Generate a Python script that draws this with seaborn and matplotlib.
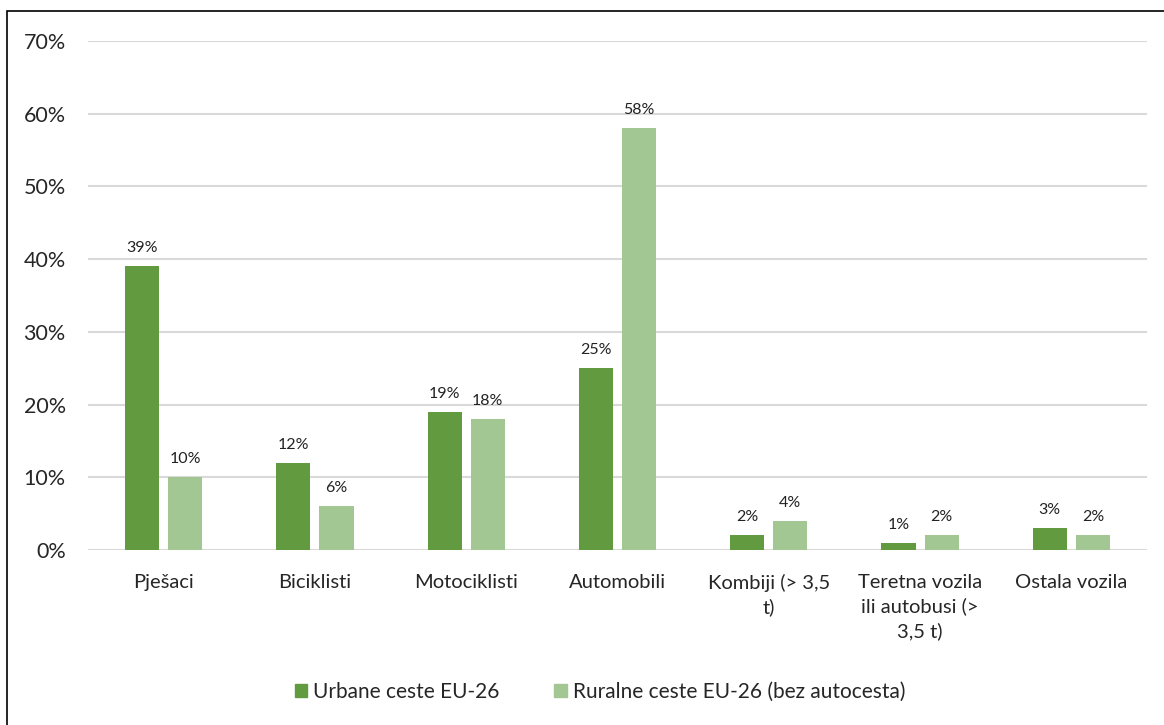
import pandas as pd
import matplotlib.pyplot as plt
import matplotlib.patches as mpatches
import seaborn as sns

categories = ["Pješaci", "Biciklisti", "Motociklisti", "Automobili",
              "Kombiji (> 3,5\nt)", "Teretna vozila\nili autobusi (>\n3,5 t)", "Ostala vozila"]
urban = [39, 12, 19, 25, 2, 1, 3]
rural = [10, 6, 18, 58, 4, 2, 2]
series = ["Urbane ceste EU-26", "Ruralne ceste EU-26 (bez autocesta)"]
colors = ["#629a3f", "#a3c793"]

df = pd.DataFrame({
    "kategorija": categories * 2,
    "udio": urban + rural,
    "serija": [series[0]] * len(categories) + [series[1]] * len(categories),
})

sns.set_style("white")
plt.rcParams["font.family"] = ["Lato", "DejaVu Sans"]

fig = plt.figure(figsize=(11.64, 7.25), dpi=100)
ax = fig.add_axes([88 / 1164, 1 - 550 / 725, (1147 - 88) / 1164, (550 - 41) / 725])

sns.barplot(data=df, x="kategorija", y="udio", hue="serija", palette=colors,
            width=0.57, gap=0.21, ax=ax, legend=False, saturation=1, linewidth=0)

for cont in ax.containers:
    ax.bar_label(cont, labels=[f"{v:.0f}%" for v in cont.datavalues],
                 padding=8, fontsize=11.5, color="#222222")

ax.set_ylim(0, 70)
ax.set_xlim(-0.5, len(categories) - 0.5)
ax.set_yticks(range(0, 71, 10))
ax.set_yticklabels([f"{v}%" for v in range(0, 71, 10)], fontsize=15.5)
ax.tick_params(axis="x", labelsize=14.5, length=0, pad=17)
ax.tick_params(axis="y", length=0, pad=16)
for lbl in ax.get_xticklabels():
    lbl.set_linespacing(1.45)
ax.yaxis.grid(True, color="#d9d9d9", linewidth=1.5)
ax.set_axisbelow(True)
for s in ax.spines.values():
    s.set_visible(False)
ax.set_xlabel("")
ax.set_ylabel("")

handles = [mpatches.Patch(color=c, label=l) for c, l in zip(colors, series)]
fig.legend(handles=handles, loc="center", bbox_to_anchor=(600 / 1164, 1 - 692 / 725),
           ncol=2, frameon=False, fontsize=15, handlelength=0.6, handleheight=0.6,
           handletextpad=0.3, columnspacing=2.6)

fig.patches.append(mpatches.Rectangle((7 / 1164, -0.1), 1.2, 1 - 11 / 725 + 0.1,
                                      transform=fig.transFigure, fill=False,
                                      edgecolor="black", linewidth=1.2))

fig.savefig("out.png", dpi=100)
